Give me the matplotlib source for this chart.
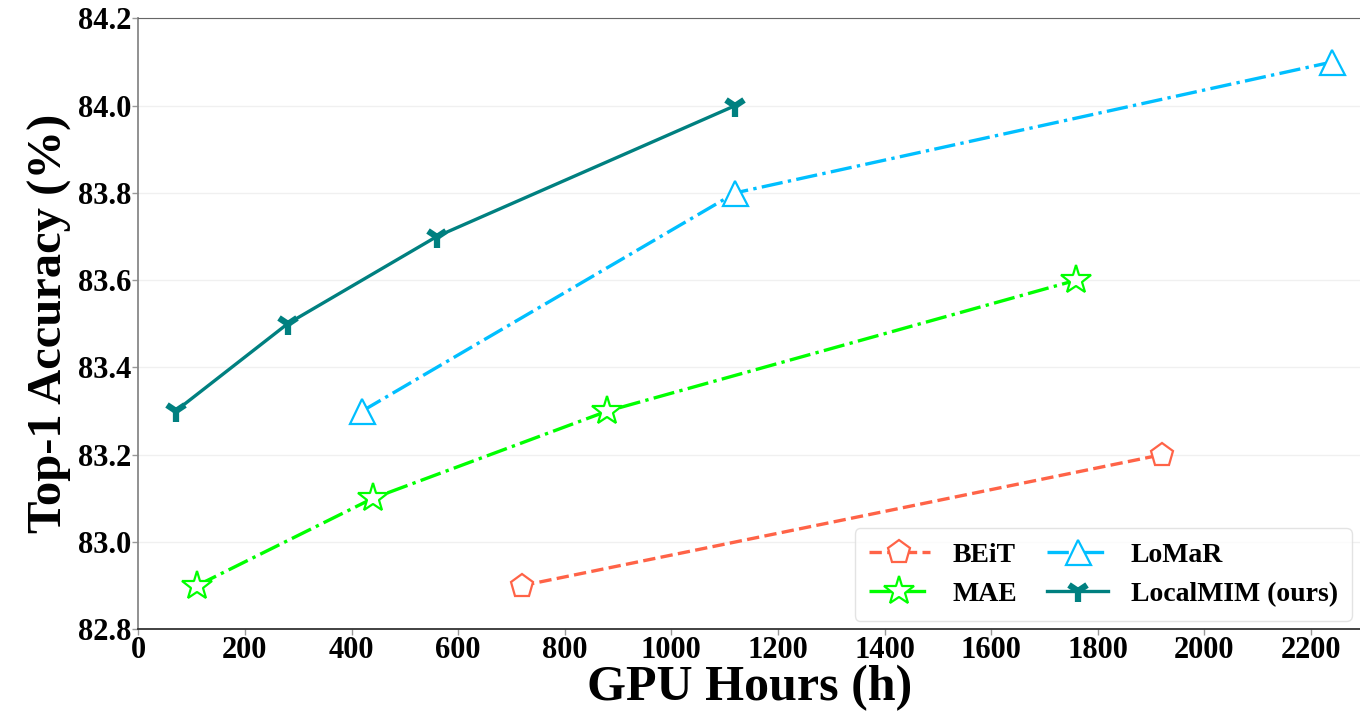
import numpy as np
import matplotlib
matplotlib.use('Agg')
import matplotlib.pyplot as plt

# Data
beit_x = [720, 1920]
beit_y = [82.9, 83.2]
mae_x = [110, 440, 880, 1760]
mae_y = [82.9, 83.1, 83.3, 83.6]
lomar_x = [420, 1120, 2240]
lomar_y = [83.3, 83.8, 84.1]
localmim_x = [70, 280, 560, 1120]
localmim_y = [83.3, 83.5, 83.7, 84.0]

x_ticks = np.arange(0, 2201, 200)
y_ticks = np.arange(82.8, 84.21, 0.2)

plt.rcParams['font.family'] = ['Liberation Serif', 'DejaVu Serif']
plt.rcParams['font.weight'] = 'bold'

fig = plt.figure(figsize=(13.6, 7.12), dpi=100)
ax = fig.add_axes([0.1017, 0.1162, 0.8983, 0.8581])

# Plot the four methods
ax.plot(beit_x, beit_y, linestyle='--', color='#ff6347', lw=2.4,
        marker='p', markersize=17, markerfacecolor='white',
        markeredgewidth=1.6, label='BEiT')
ax.plot(mae_x, mae_y, linestyle='-.', color='#00ff00', lw=2.4,
        marker='*', markersize=22, markerfacecolor='white',
        markeredgewidth=1.6, label='MAE')
ax.plot(lomar_x, lomar_y, linestyle='-.', color='#00bfff', lw=2.4,
        marker='^', markersize=18, markerfacecolor='white',
        markeredgewidth=1.6, label='LoMaR')
ax.plot(localmim_x, localmim_y, linestyle='-', color='#008080', lw=2.4,
        marker='1', markersize=16, markeredgewidth=4.5,
        label='LocalMIM (ours)')

# Axes limits and ticks
ax.set_xlim(0, 2292)
ax.set_ylim(82.8, 84.2)
ax.set_xticks(x_ticks)
ax.set_yticks(y_ticks)
ax.set_yticklabels([f'{v:.1f}' for v in y_ticks])
ax.tick_params(axis='both', labelsize=22, length=4, width=1,
               color='#999999', pad=1)

# Grid and spines
ax.grid(axis='y', color='#f0f0f0', lw=1)
ax.set_axisbelow(True)
ax.spines['left'].set_color('#888888')
ax.spines['left'].set_linewidth(1.3)
ax.spines['top'].set_color('#666666')
ax.spines['bottom'].set_color('#333333')
ax.spines['bottom'].set_linewidth(1.3)
ax.spines['right'].set_visible(False)

# Labels
ax.set_xlabel('GPU Hours (h)', fontsize=36, fontweight='bold', labelpad=0)
ax.set_ylabel('Top-1 Accuracy (%)', fontsize=35, fontweight='bold', labelpad=4)

# Legend
leg = ax.legend(loc='lower right', ncol=2, fontsize=20, frameon=True,
                fancybox=True, edgecolor='#dddddd', handlelength=2.2,
                columnspacing=1.1, borderaxespad=0.3, borderpad=0.5)

fig.savefig('out.png', dpi=100)
